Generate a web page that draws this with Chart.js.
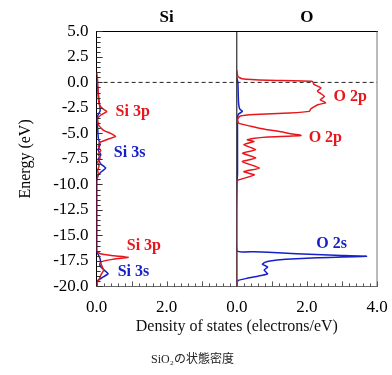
<!DOCTYPE html>
<html>
<head>
<meta charset="utf-8">
<script src="https://cdn.jsdelivr.net/npm/chart.js@4/dist/chart.umd.min.js"></script>
<style>
  html, body { margin: 0; padding: 0; background: #fff; }
  canvas { display: block; }
</style>
</head>
<body>
<canvas id="dos" width="392" height="375"></canvas>
<script>
// SiO2 の状態密度 (DOS) — エネルギーを縦軸、状態密度を横軸
var panelNames = ["Si", "O"];
var energyTicks = [5.0, 2.5, 0.0, -2.5, -5.0, -7.5, -10.0, -12.5, -15.0, -17.5, -20.0];
var dosTicks = [0.0, 2.0, 4.0];

// Si 3p (red)
var siPEnergy = [1.0, 0.5, 0.0, -0.8, -1.6, -2.2, -2.6, -2.85, -3.2, -3.6, -4.2, -4.7, -5.0, -5.3, -5.6, -5.9, -6.3, -6.7, -7.0, -7.4, -7.8, -8.2, -8.6, -9.0, -9.4, -9.8,
                 -16.5, -16.8, -17.0, -17.15, -17.35, -17.6, -18.0, -18.4, -18.9, -19.4, -19.7, -20.0];
var siPDos    = [0.0, 0.02, 0.03, 0.04, 0.05, 0.08, 0.18, 0.29, 0.12, 0.03, 0.06, 0.2, 0.4, 0.54, 0.3, 0.08, 0.05, 0.12, 0.04, 0.1, 0.03, 0.07, 0.03, 0.05, 0.02, 0.0,
                 0.0, 0.1, 0.5, 0.9, 0.45, 0.12, 0.15, 0.2, 0.12, 0.06, 0.0, 0.0];
// Si 3s (blue)
var siSEnergy = [0.2, -0.5, -1.5, -2.3, -2.8, -3.2, -3.6, -4.5, -5.5, -6.1, -6.6, -7.1, -7.5, -8.0, -8.4, -8.8, -9.2, -9.6,
                 -16.6, -16.9, -17.3, -17.6, -17.9, -18.2, -18.5, -18.75, -19.1, -19.4, -19.7];
var siSDos    = [0.0, 0.03, 0.06, 0.09, 0.1, 0.04, 0.01, 0.03, 0.05, 0.1, 0.04, 0.12, 0.05, 0.12, 0.26, 0.12, 0.03, 0.0,
                 0.0, 0.05, 0.1, 0.11, 0.09, 0.15, 0.25, 0.33, 0.18, 0.04, 0.0];
// O 2p (red)
var oPEnergy = [1.2, 0.6, 0.35, 0.2, 0.1, -0.2, -0.54, -0.87, -1.1, -1.37, -1.7, -2.0, -2.17, -2.4, -2.6, -2.84, -3.0, -3.15, -3.3, -3.6, -4.0, -4.3, -4.6, -4.8, -5.0, -5.2,
                -5.35, -5.5, -5.63, -5.8, -6.1, -6.6, -6.94, -7.4, -7.77, -8.4, -8.75, -9.07, -9.6, -10.0, -20.0];
var oPDos    = [0.0, 0.03, 0.15, 0.9, 2.16, 2.2, 2.4, 2.3, 2.4, 2.5, 2.38, 2.54, 2.33, 2.2, 2.11, 2.07, 1.5, 0.5, 0.1, 0.02, 0.05, 0.4, 0.8, 1.19, 1.5, 1.83,
                0.88, 0.45, 0.3, 0.49, 0.2, 0.54, 0.16, 0.54, 0.16, 0.65, 0.2, 0.5, 0.03, 0.0, 0.0];
// O 2s (blue)
var oSEnergy = [0.5, 0.0, -1.0, -2.0, -2.6, -2.84, -3.1, -3.5, -5.0, -7.0, -9.0, -10.0, -16.5, -16.6, -16.65, -16.8, -16.95, -17.05, -17.2, -17.35, -17.5,
                -17.65, -17.83, -18.1, -18.4, -18.75, -18.9, -19.2, -19.4, -19.6];
var oSDos    = [0.0, 0.03, 0.04, 0.05, 0.08, 0.16, 0.05, 0.02, 0.02, 0.02, 0.02, 0.0, 0.0, 0.5, 0.9, 1.7, 2.8, 3.7, 2.3, 1.4, 0.95,
                0.8, 0.73, 0.88, 0.78, 0.88, 0.73, 0.3, 0.05, 0.0];

var RED = "#e8161c";
var BLUE = "#1620c8";
var SERIF = "'Liberation Serif', 'Times New Roman', serif";

// ラベル（パネル, 状態密度, エネルギー）
var curveLabels = [
    {text: "Si 3p", axis: "xSi", dos: 0.54, e: -2.9, color: RED},
    {text: "Si 3s", axis: "xSi", dos: 0.49, e: -6.9, color: BLUE},
    {text: "Si 3p", axis: "xSi", dos: 0.86, e: -16.0, color: RED},
    {text: "Si 3s", axis: "xSi", dos: 0.6, e: -18.6, color: BLUE},
    {text: "O 2p", axis: "xO", dos: 2.76, e: -1.4, color: RED},
    {text: "O 2p", axis: "xO", dos: 2.05, e: -5.45, color: RED},
    {text: "O 2s", axis: "xO", dos: 2.27, e: -15.8, color: BLUE}
];

function pts(es, ds) {
    return es.map(function (e, i) { return {x: ds[i], y: e}; });
}

function curve(label, es, ds, color, axis) {
    return {
        label: label,
        data: pts(es, ds),
        xAxisID: axis,
        yAxisID: "y",
        showLine: true,
        borderColor: color,
        backgroundColor: color,
        borderWidth: 1.5,
        pointRadius: 0,
        tension: 0.15,
        fill: false
    };
}

var decor = {
    id: "decor",
    beforeDatasetsDraw: function (chart) {
        var ctx = chart.ctx, a = chart.chartArea, s = chart.scales;
        ctx.save();
        // E = 0 の破線
        var y0 = s.y.getPixelForValue(0);
        ctx.strokeStyle = "#222";
        ctx.lineWidth = 1;
        ctx.setLineDash([4, 3]);
        ctx.beginPath();
        ctx.moveTo(a.left, y0);
        ctx.lineTo(a.right, y0);
        ctx.stroke();
        ctx.setLineDash([]);
        // 中央の仕切り線
        ctx.strokeStyle = "#000";
        ctx.beginPath();
        ctx.moveTo(s.xO.left, a.top);
        ctx.lineTo(s.xO.left, a.bottom);
        ctx.stroke();
        // 右枠
        ctx.strokeStyle = "#777";
        ctx.beginPath();
        ctx.moveTo(a.right, a.top);
        ctx.lineTo(a.right, a.bottom);
        ctx.stroke();
        ctx.restore();
    },
    afterDatasetsDraw: function (chart) {
        var ctx = chart.ctx, a = chart.chartArea, s = chart.scales;
        ctx.save();
        ctx.lineWidth = 1;
        // 内向きの目盛り
        ctx.strokeStyle = "#333";
        for (var k = 0; k <= 50; k++) {
            var py = Math.round(s.y.getPixelForValue(-20 + k * 0.5)) + 0.5;
            var L = (k % 5 === 0) ? 6 : 4;
            ctx.beginPath();
            ctx.moveTo(a.left, py);
            ctx.lineTo(a.left + L, py);
            ctx.stroke();
        }
        ctx.strokeStyle = "#555";
        [s.xSi, s.xO].forEach(function (sc) {
            for (var j = 0; j <= 20; j++) {
                var px = Math.round(sc.getPixelForValue(j * 0.2)) + 0.5;
                var T = (j % 5 === 0) ? 5 : 3;
                ctx.beginPath();
                ctx.moveTo(px, a.bottom);
                ctx.lineTo(px, a.bottom - T);
                ctx.stroke();
            }
        });
        // 曲線ラベル
        ctx.font = "bold 16px " + SERIF;
        ctx.textAlign = "left";
        ctx.textBaseline = "middle";
        curveLabels.forEach(function (l) {
            ctx.fillStyle = l.color;
            ctx.fillText(l.text, s[l.axis].getPixelForValue(l.dos), s.y.getPixelForValue(l.e));
        });
        ctx.restore();
    }
};

Chart.defaults.color = "#000";
Chart.defaults.font.family = SERIF;

function topAxis(name) {
    return {
        type: "linear",
        position: "top",
        stack: "top",
        stackWeight: 1,
        min: 0,
        max: 1,
        ticks: {display: false},
        grid: {display: false, drawTicks: false},
        border: {display: true, color: "#000", width: 1},
        title: {display: true, text: name, font: {size: 17, weight: "bold"}, padding: {top: 2, bottom: 4}}
    };
}

function bottomAxis(lastLabel) {
    return {
        type: "linear",
        position: "bottom",
        stack: "dos",
        stackWeight: 1,
        min: dosTicks[0],
        max: dosTicks[dosTicks.length - 1],
        afterFit: function (sc) {
            sc.height = 31;
            sc.paddingLeft = 0;
            sc.paddingRight = 0;
        },
        ticks: {stepSize: 2, padding: 11, font: {size: 17}, callback: function (v) {
            return (v < 4 || lastLabel) ? v.toFixed(1) : "";
        }},
        grid: {display: false, drawTicks: false},
        border: {display: true, color: "#666", width: 1}
    };
}

var dos = document.getElementById("dos");
var dosChart = new Chart(dos, {
    type: "scatter",
    data: {
        datasets: [
            curve("Si 3p", siPEnergy, siPDos, RED, "xSi"),
            curve("Si 3s", siSEnergy, siSDos, BLUE, "xSi"),
            curve("O 2p", oPEnergy, oPDos, RED, "xO"),
            curve("O 2s", oSEnergy, oSDos, BLUE, "xO")
        ]
    },
    options: {
        responsive: false,
        animation: false,
        layout: {padding: {top: 5, left: 8, right: 15, bottom: 8}},
        scales: {
            y: {
                type: "linear",
                position: "left",
                min: energyTicks[energyTicks.length - 1],
                max: energyTicks[0],
                ticks: {stepSize: 2.5, padding: 8, font: {size: 17}, callback: function (v) { return v.toFixed(1); }},
                grid: {display: false, drawTicks: false},
                border: {display: true, color: "#000", width: 1},
                title: {display: true, text: "Energy (eV)", font: {size: 16}, padding: {top: 8, bottom: 10}}
            },
            xSi: bottomAxis(false),
            xO: bottomAxis(true),
            // 上側のスタックは逆順に並ぶので O を先に置く
            oTop: topAxis(panelNames[1]),
            siTop: topAxis(panelNames[0])
        },
        plugins: {
            legend: {display: false},
            tooltip: {enabled: false},
            subtitle: {
                display: true,
                position: "bottom",
                fullSize: false,
                text: "Density of states (electrons/eV)",
                color: "#111",
                font: {size: 16, weight: "normal"},
                padding: {top: 0, bottom: 10}
            },
            title: {
                display: true,
                position: "bottom",
                text: "SiO₂の状態密度",
                color: "#222",
                font: {family: "'Liberation Serif', 'Noto Sans CJK JP', serif", size: 12, weight: "normal"},
                padding: {top: 6, bottom: 0}
            }
        }
    },
    plugins: [decor]
});
</script>
</body>
</html>
